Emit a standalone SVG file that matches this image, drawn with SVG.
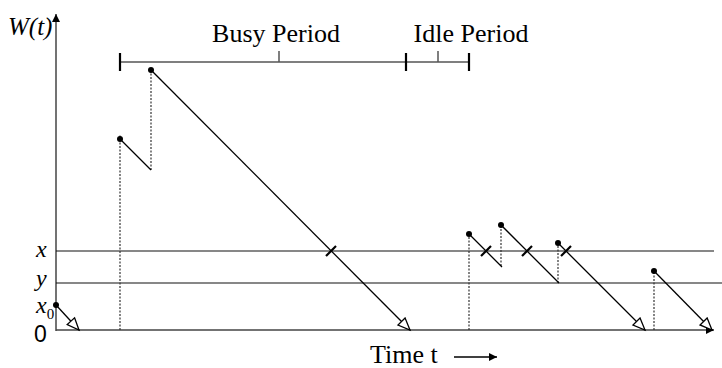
<svg xmlns="http://www.w3.org/2000/svg" width="722" height="368" viewBox="0 0 722 368">
<style>
.ax{stroke:#444;stroke-width:1.5;fill:none}
.hl{stroke:#111;stroke-width:1.2;fill:none}
.dl{stroke:#333;stroke-width:1.2;stroke-dasharray:2 1.5;fill:none}
.sl{stroke:#000;stroke-width:1.3;fill:none}
.ar{stroke:#000;stroke-width:1.3;fill:none;marker-end:url(#open)}
.tk{stroke:#000;stroke-width:2.2}
.br{stroke:#555;stroke-width:1.5;fill:none}
.bt{stroke:#000;stroke-width:2.2}
.dot{fill:#000}
.t{font-family:"Liberation Serif",serif;font-size:26px;fill:#000}
.i{font-family:"Liberation Serif",serif;font-style:italic;font-size:24px;fill:#000}
</style>
<defs>
<marker id="open" markerUnits="userSpaceOnUse" markerWidth="16" markerHeight="14" refX="13" refY="6" orient="auto" viewBox="0 0 16 14">
<path d="M1,1 L13,6 L1,11 Z" fill="#fff" stroke="#000" stroke-width="1.3"/>
</marker>
<marker id="solid" markerUnits="userSpaceOnUse" markerWidth="10" markerHeight="10" refX="8" refY="4" orient="auto" viewBox="0 0 10 8">
<path d="M0,0 L8,4 L0,8 Z" fill="#000"/>
</marker>
</defs>

<g id="axes">
<line class="ax" x1="56" y1="331" x2="56" y2="14" marker-end="url(#solid)"/>
<line class="ax" x1="56" y1="330" x2="714" y2="330" marker-end="url(#solid)"/>
<line class="hl" x1="56" y1="251" x2="714" y2="251"/>
<line class="hl" x1="56" y1="283" x2="722" y2="283"/>
</g>

<g id="labels">
<text class="i" x="8" y="35" style="font-size:25px">W(t)</text>
<text class="i" x="36" y="257">x</text>
<text class="i" x="36" y="286">y</text>
<text class="i" x="36" y="313">x<tspan dy="6" style="font-size:15px;font-style:normal">0</tspan></text>
<text x="34" y="342" font-family="Liberation Sans, Arial, sans-serif" font-size="23" fill="#000">0</text>
<text class="t" x="276" y="42" text-anchor="middle">Busy Period</text>
<text class="t" x="471" y="42" text-anchor="middle">Idle Period</text>
<text class="t" x="370" y="363">Time t</text>
<line x1="454" y1="357" x2="497" y2="357" stroke="#000" stroke-width="1.3" marker-end="url(#solid)"/>
</g>

<g id="bracket">
<line class="br" x1="120" y1="62" x2="469" y2="62"/>
<line class="bt" x1="120" y1="53" x2="120" y2="71"/>
<line class="bt" x1="406" y1="53" x2="406" y2="71"/>
<line class="bt" x1="469" y1="53" x2="469" y2="71"/>
<line class="br" x1="279" y1="62" x2="279" y2="51"/>
<line class="br" x1="438" y1="62" x2="438" y2="51"/>
</g>

<g id="connectors">
<line class="dl" x1="120" y1="330" x2="120" y2="135"/>
<line class="dl" x1="151" y1="170" x2="151" y2="70"/>
<line class="dl" x1="469" y1="330" x2="469" y2="234"/>
<line class="dl" x1="501" y1="266" x2="501" y2="225"/>
<line class="dl" x1="558" y1="283" x2="558" y2="243"/>
<line class="dl" x1="654" y1="330" x2="654" y2="271"/>

<line class="ar" x1="56" y1="305" x2="79" y2="330"/>
<line class="sl" x1="120" y1="139" x2="151" y2="170"/>
<line class="ar" x1="151" y1="70" x2="410" y2="330"/>
<line class="sl" x1="469" y1="234" x2="502" y2="267"/>
<line class="sl" x1="501" y1="225" x2="559" y2="283"/>
<line class="ar" x1="558" y1="243" x2="645" y2="330"/>
<line class="ar" x1="654" y1="271" x2="712" y2="330"/>

<line class="tk" x1="326" y1="256" x2="336" y2="246"/>
<line class="tk" x1="481" y1="256" x2="491" y2="246"/>
<line class="tk" x1="522" y1="256" x2="532" y2="246"/>
<line class="tk" x1="561" y1="256" x2="571" y2="246"/>
</g>

<g id="points">
<circle class="dot" cx="56" cy="305" r="3"/>
<circle class="dot" cx="120" cy="139" r="3"/>
<circle class="dot" cx="151" cy="70" r="3"/>
<circle class="dot" cx="469" cy="234" r="3"/>
<circle class="dot" cx="501" cy="225" r="3"/>
<circle class="dot" cx="558" cy="243" r="3"/>
<circle class="dot" cx="654" cy="271" r="3"/>
</g>
</svg>
